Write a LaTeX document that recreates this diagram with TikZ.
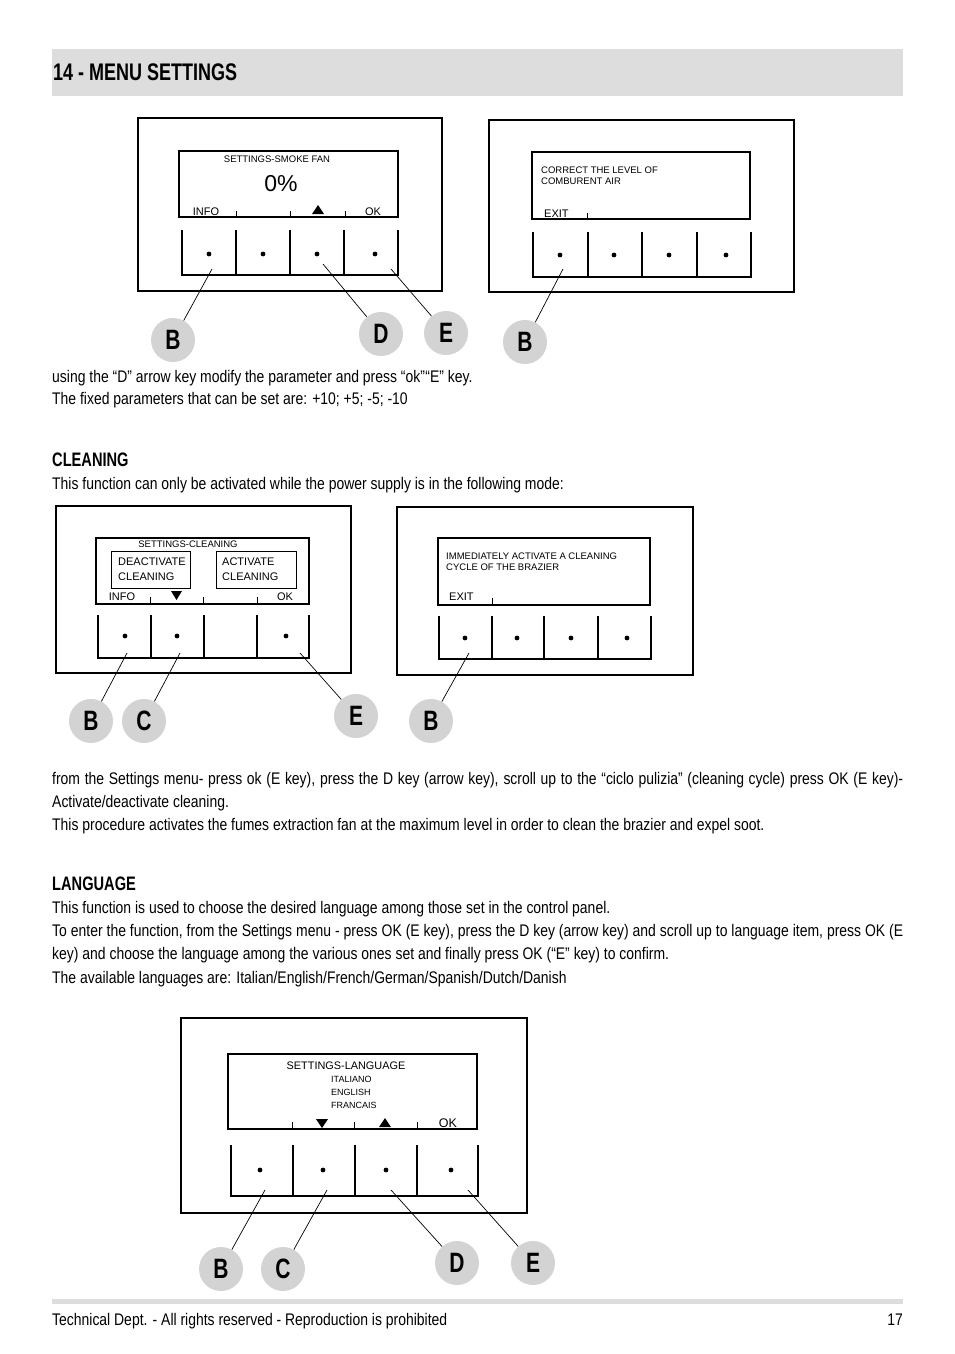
\documentclass[tikz,border=0pt]{standalone}
\usepackage{fontspec}
\setmainfont[FakeStretch=0.83]{Liberation Sans}
\newfontfamily\headfont[FakeStretch=0.75]{Liberation Sans}
\newfontfamily\lcdfont{Liberation Sans}
\usetikzlibrary{positioning}
\definecolor{bandgray}{RGB}{221,221,221}
\definecolor{keygray}{RGB}{211,211,211}
\tikzset{
  panel/.style={draw, line width=1.5pt},
  screen/.style={draw, line width=1.6pt},
  optbox/.style={draw, line width=1pt},
  keyline/.style={line width=1.8pt},
  tick/.style={line width=0.8pt},
  pointer/.style={line width=0.7pt},
  callout/.style={circle, fill=keygray, minimum size=44pt, inner sep=0pt,
    font=\headfont\bfseries\fontsize{28}{28}\selectfont},
  body/.style={anchor=base west, inner sep=0pt, font=\fontsize{16.8}{20}\selectfont},
  heading/.style={anchor=base west, inner sep=0pt, font=\headfont\bfseries\fontsize{19.5}{22}\selectfont},
  lcd/.style={inner sep=0pt, font=\lcdfont\fontsize{9.5}{11}\selectfont},
  lcdkey/.style={inner sep=0pt, anchor=base, font=\lcdfont\fontsize{11}{12}\selectfont},
}
\begin{document}
\begin{tikzpicture}[x=1pt, y=-1pt]
\useasboundingbox (0,0) rectangle (954,1354);
% Title band
\fill[bandgray] (52,49) rectangle (903,96);
\node[anchor=base west, inner sep=0pt, font=\headfont\bfseries\fontsize{24}{26}\selectfont] (title) at (53,81) {14 - MENU SETTINGS};

% Smoke fan panel (top left)
\draw[panel] (138,118) rectangle (442,291);
\draw[screen] (179,151) rectangle (398,217);
\foreach \x in {236,290,345} \draw[tick] (\x,211) -- (\x,217);
\node[lcd, anchor=base] (fantitle) at (277,162) {SETTINGS-SMOKE FAN};
\node[inner sep=0pt, anchor=base, font=\lcdfont\fontsize{23}{24}\selectfont] (fanval) at (281,191) {0\%};
\node[lcdkey] (faninfo) at (206,215) {INFO};
\node[lcdkey] (fanok) at (373,215) {OK};
\fill (312,214) -- (324,214) -- (318,205) -- cycle;
\draw[keyline] (182,230) -- (182,275) -- (398,275) -- (398,230);
\foreach \x in {236,290,344} \draw[keyline] (\x,230) -- (\x,275);
\foreach \x in {209,263,317,375} \fill (\x,254) circle (2.4pt);
\node[callout] (fanB) at (173,340) {B};
\node[callout] (fanD) at (381,334) {D};
\node[callout] (fanE) at (446,333) {E};
\coordinate (fankB) at (212,269);
\coordinate (fankD) at (323,264);
\coordinate (fankE) at (391,269);
\draw[pointer] (fankB) -- (fanB);
\draw[pointer] (fankD) -- (fanD);
\draw[pointer] (fankE) -- (fanE);

% Exit panel (top right)
\draw[panel] (489,120) rectangle (794,292);
\draw[screen] (532,152) rectangle (750,219);
\draw[tick] (587,213) -- (587,219);
\node[lcd, anchor=base west] (airmsg1) at (541,173) {CORRECT THE LEVEL OF};
\node[lcd, anchor=base west] (airmsg2) at (541,184) {COMBURENT AIR};
\node[lcdkey, anchor=base west] (airexit) at (544,217) {EXIT};
\draw[keyline] (533,232) -- (533,277) -- (751,277) -- (751,232);
\foreach \x in {588,642,697} \draw[keyline] (\x,232) -- (\x,277);
\foreach \x in {560,614,669,726} \fill (\x,255) circle (2.4pt);
\node[callout] (airB) at (525,342) {B};
\coordinate (airkB) at (563,269);
\draw[pointer] (airkB) -- (airB);

% Text after first row
\node[body] (usetxt) at (52,382) {using the “D” arrow key modify the parameter and press “ok”\kern0.5pt{}“E” key.};
\node[body] (fixtxt) at (52,404) {The fixed parameters that can be set are: +10; +5; -5; -10};
\node[heading] (cleanhead) at (52,466) {CLEANING};
\node[body] (cleantxt) at (52,489) {This function can only be activated while the power supply is in the following mode:};

% Cleaning panel (middle left)
\draw[panel] (56,506) rectangle (351,673);
\draw[screen] (96,538) rectangle (309,604);
\foreach \x in {150,203,257} \draw[tick] (\x,597) -- (\x,604);
\node[lcd, anchor=base] (cleantitle) at (188,547) {SETTINGS-CLEANING};
\draw[optbox] (111,551) rectangle (190,588);
\draw[optbox] (216,551) rectangle (296,588);
\node[lcdkey, anchor=base west] (deact1) at (118,565) {DEACTIVATE};
\node[lcdkey, anchor=base west] (deact2) at (118,580) {CLEANING};
\node[lcdkey, anchor=base west] (act1) at (222,565) {ACTIVATE};
\node[lcdkey, anchor=base west] (act2) at (222,580) {CLEANING};
\node[lcdkey] (cleaninfo) at (122,600) {INFO};
\node[lcdkey] (cleanok) at (285,600) {OK};
\fill (171,591) -- (182,591) -- (176.5,600) -- cycle;
\draw[keyline] (98,615) -- (98,658) -- (309,658) -- (309,615);
\foreach \x in {151,204,257} \draw[keyline] (\x,615) -- (\x,658);
\foreach \x in {125,177,286} \fill (\x,636) circle (2.4pt);
\node[callout] (cleanB) at (91,721) {B};
\node[callout] (cleanC) at (144,721) {C};
\node[callout] (cleanE) at (356,716) {E};
\coordinate (cleankB) at (127,653);
\coordinate (cleankC) at (180,653);
\coordinate (cleankE) at (300,653);
\draw[pointer] (cleankB) -- (cleanB);
\draw[pointer] (cleankC) -- (cleanC);
\draw[pointer] (cleankE) -- (cleanE);

% Brazier panel (middle right)
\draw[panel] (397,507) rectangle (693,675);
\draw[screen] (438,538) rectangle (650,605);
\draw[tick] (492,598) -- (492,605);
\node[lcd, anchor=base west] (brazmsg1) at (446,559) {IMMEDIATELY ACTIVATE A CLEANING};
\node[lcd, anchor=base west] (brazmsg2) at (446,570) {CYCLE OF THE BRAZIER};
\node[lcdkey, anchor=base west] (brazexit) at (449,600) {EXIT};
\draw[keyline] (439,616) -- (439,659) -- (651,659) -- (651,616);
\foreach \x in {492,544,598} \draw[keyline] (\x,616) -- (\x,659);
\foreach \x in {465,517,571,627} \fill (\x,638) circle (2.4pt);
\node[callout] (brazB) at (431,721) {B};
\coordinate (brazkB) at (469,653);
\draw[pointer] (brazkB) -- (brazB);

% Cleaning procedure text
\node[body] (proc1) at (52,784) {\makebox[851pt][s]{from the Settings menu- press ok (E key), press the D key (arrow key), scroll up to the “ciclo pulizia” (cleaning cycle) press OK (E key)-}};
\node[body] (proc2) at (52,807) {Activate/deactivate cleaning.};
\node[body] (proc3) at (52,830) {This procedure activates the fumes extraction fan at the maximum level in order to clean the brazier and expel soot.};
\node[heading] (langhead) at (52,890) {LANGUAGE};
\node[body] (lang1) at (52,913) {This function is used to choose the desired language among those set in the control panel.};
\node[body] (lang2) at (52,936) {\makebox[851pt][s]{To enter the function, from the Settings menu - press OK (E key), press the D key (arrow key) and scroll up to language item, press OK (E}};
\node[body] (lang3) at (52,959) {key) and choose the language among the various ones set and finally press OK (“E” key) to confirm.};
\node[body] (lang4) at (52,983) {The available languages are: Italian/English/French/German/Spanish/Dutch/Danish};

% Language panel (bottom)
\draw[panel] (181,1018) rectangle (527,1213);
\draw[screen] (228,1054) rectangle (477,1129);
\foreach \x in {292,354,417} \draw[tick] (\x,1122) -- (\x,1129);
\node[inner sep=0pt, anchor=base, font=\lcdfont\fontsize{10.9}{12}\selectfont] (langtitle) at (346,1069) {SETTINGS-LANGUAGE};
\node[inner sep=0pt, anchor=base west, font=\lcdfont\fontsize{9}{10}\selectfont] (langit) at (331,1082) {ITALIANO};
\node[inner sep=0pt, anchor=base west, font=\lcdfont\fontsize{9}{10}\selectfont] (langen) at (331,1095) {ENGLISH};
\node[inner sep=0pt, anchor=base west, font=\lcdfont\fontsize{9}{10}\selectfont] (langfr) at (331,1108) {FRANCAIS};
\fill (316,1119) -- (328,1119) -- (322,1128) -- cycle;
\fill (379,1127) -- (391,1127) -- (385,1118) -- cycle;
\node[lcdkey, font=\lcdfont\fontsize{12.5}{13}\selectfont] (langok) at (448,1127) {OK};
\draw[keyline] (231,1145) -- (231,1196) -- (478,1196) -- (478,1145);
\foreach \x in {293,355,417} \draw[keyline] (\x,1145) -- (\x,1196);
\foreach \x in {260,323,386,451} \fill (\x,1170) circle (2.4pt);
\node[callout] (langB) at (221,1269) {B};
\node[callout] (langC) at (283,1269) {C};
\node[callout] (langD) at (457,1263) {D};
\node[callout] (langE) at (533,1263) {E};
\coordinate (langkB) at (265,1190);
\coordinate (langkC) at (327,1190);
\coordinate (langkD) at (391,1190);
\coordinate (langkE) at (468,1190);
\draw[pointer] (langkB) -- (langB);
\draw[pointer] (langkC) -- (langC);
\draw[pointer] (langkD) -- (langD);
\draw[pointer] (langkE) -- (langE);

% Footer
\fill[bandgray] (52,1299) rectangle (903,1304);
\node[body] (foot) at (52,1325) {Technical Dept. - All rights reserved - Reproduction is prohibited};
\node[body, anchor=base east] (pagenum) at (903,1325) {17};
\end{tikzpicture}
\end{document}
